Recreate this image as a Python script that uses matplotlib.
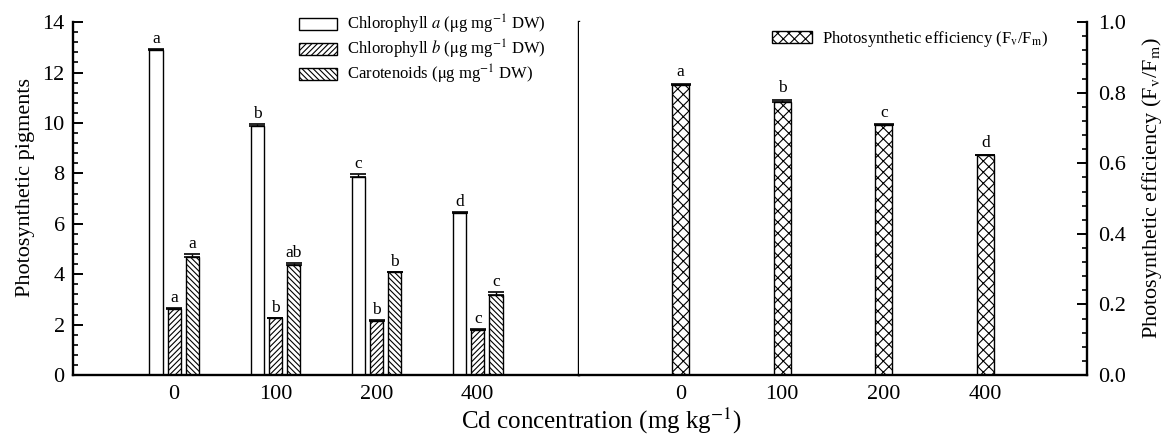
import numpy as np
import matplotlib.pyplot as plt
from matplotlib.ticker import AutoMinorLocator, MultipleLocator

plt.rcParams['font.family'] = ['Liberation Serif', 'DejaVu Serif']
plt.rcParams['mathtext.fontset'] = 'stix'
plt.rcParams['hatch.linewidth'] = 0.8

# data
cd_levels = ['0', '100', '200', '400']
chl_a = [12.88, 9.87, 7.86, 6.43]
chl_a_err = [0.05, 0.08, 0.13, 0.03]
chl_a_sig = ['a', 'b', 'c', 'd']
chl_b = [2.60, 2.25, 2.15, 1.78]
chl_b_err = [0.04, 0.02, 0.03, 0.04]
chl_b_sig = ['a', 'b', 'b', 'c']
carot = [4.69, 4.36, 4.07, 3.17]
carot_err = [0.10, 0.10, 0.03, 0.12]
carot_sig = ['a', 'ab', 'b', 'c']
fvfm = [0.823, 0.775, 0.708, 0.623]
fvfm_err = [0.003, 0.005, 0.002, 0.001]
fvfm_sig = ['a', 'b', 'c', 'd']

x = np.arange(len(cd_levels))

fig = plt.figure(figsize=(11.64, 4.43), dpi=100)
ax1 = fig.add_axes([0.0627, 0.1535, 0.4347, 0.7965])
ax2 = fig.add_axes([0.4974, 0.1535, 0.4364, 0.7965])


def draw(ax, xpos, vals, errs, sigs, width, hatch, label, pad):
    ax.bar(xpos, vals, width, yerr=[np.zeros(len(vals)), errs],
           color='white', edgecolor='black', linewidth=1.0, hatch=hatch,
           label=label, error_kw=dict(ecolor='black', elinewidth=1.0,
                                      capsize=width * 45, capthick=1.2))
    for xi, v, e, s in zip(xpos, vals, errs, sigs):
        ax.annotate(s, (xi, v + e), xytext=(0, pad), textcoords='offset points',
                    ha='center', va='bottom', fontsize=12.5)


bw = 0.13
draw(ax1, x - 0.18, chl_a, chl_a_err, chl_a_sig, bw, None,
     r'Chlorophyll $a$ ($\mathrm{\mu}$g mg$^{\mathrm{-1}}$ DW)', 1.5)
draw(ax1, x, chl_b, chl_b_err, chl_b_sig, bw, '//////',
     r'Chlorophyll $b$ ($\mathrm{\mu}$g mg$^{\mathrm{-1}}$ DW)', 1.5)
draw(ax1, x + 0.18, carot, carot_err, carot_sig, bw, '\\\\\\\\\\\\',
     r'Carotenoids ($\mathrm{\mu}$g mg$^{\mathrm{-1}}$ DW)', 1.5)

draw(ax2, x, fvfm, fvfm_err, fvfm_sig, 0.165, 'xxx',
     r'Photosynthetic efficiency (F$_{\mathrm{v}}$/F$_{\mathrm{m}}$)', 2.5)

for ax in (ax1, ax2):
    ax.set_xlim(-1, 4)
    ax.set_xticks(x)
    ax.set_xticklabels(cd_levels, fontsize=16)
    ax.tick_params(axis='x', length=0, pad=7)
    ax.spines['top'].set_visible(False)
    for sp in ax.spines.values():
        sp.set_linewidth(1.7)

ax1.set_ylim(0, 14)
ax1.yaxis.set_major_locator(MultipleLocator(2))
ax1.yaxis.set_minor_locator(AutoMinorLocator(5))
ax1.tick_params(axis='y', which='major', direction='in', length=7, width=1.4,
                labelsize=16, pad=6)
ax1.tick_params(axis='y', which='minor', direction='in', length=3.5, width=1.2)
ax1.set_ylabel('Photosynthetic pigments', fontsize=16)
ax1.yaxis.set_label_coords(-0.076, 0.532)
ax1.spines['right'].set_visible(True)

ax2.spines['left'].set_visible(False)
ax2.set_ylim(0, 1.0)
ax2.yaxis.tick_right()
ax2.yaxis.set_label_position('right')
ax2.yaxis.set_major_locator(MultipleLocator(0.2))
ax2.yaxis.set_minor_locator(AutoMinorLocator(5))
ax2.yaxis.set_major_formatter(plt.FormatStrFormatter('%.1f'))
ax2.tick_params(axis='y', which='major', direction='in', length=7, width=1.4,
                labelsize=16, right=True, left=False, pad=8)
ax2.tick_params(axis='y', which='minor', direction='in', length=3.5, width=1.2,
                right=True, left=False)
ax2.set_ylabel(r'Photosynthetic efficiency (F$_{\mathrm{v}}$/F$_{\mathrm{m}}$)',
               fontsize=16)
ax2.yaxis.set_label_coords(1.104, 0.53)

ax1.legend(loc='upper right', bbox_to_anchor=(0.947, 1.045), frameon=False,
           fontsize=12, handlelength=2.3, handleheight=0.7,
           handletextpad=0.6, labelspacing=0.1, borderaxespad=0)
ax2.legend(loc='upper right', bbox_to_anchor=(0.937, 1.0), frameon=False,
           fontsize=12, handlelength=2.4, handleheight=0.7,
           handletextpad=0.6, borderaxespad=0)

fig.text(0.517, 0.015, 'Cd concentration (mg kg$^{\\mathrm{-1}}$)', ha='center',
         va='bottom', fontsize=18)

fig.savefig('out.png', dpi=100)
